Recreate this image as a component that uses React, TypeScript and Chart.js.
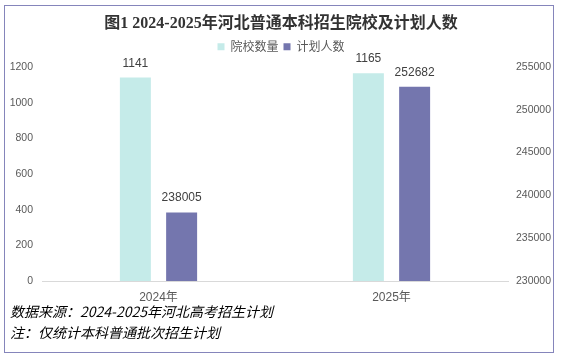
import React, { useEffect, useRef } from "react";
import { Chart, registerables } from "chart.js";

Chart.register(...registerables);

const categories = ["2024年", "2025年"];
const seriesNames = ["院校数量", "计划人数"];
const schoolCounts = [1141, 1165];
const planCounts = [238005, 252682];
const leftAxis = { min: 0, max: 1200, step: 200 };
const rightAxis = { min: 230000, max: 255000, step: 5000 };
const titleText = "图1 2024-2025年河北普通本科招生院校及计划人数";
const footnotes = ["数据来源：2024-2025年河北高考招生计划", "注：仅统计本科普通批次招生计划"];

const CYAN = "#c5ebe9";
const PURPLE = "#7476ae";
const TICK_COLOR = "#595959";
const SANS = '"Liberation Sans", Arial, "Noto Sans CJK SC", sans-serif';
const CJK = '"Noto Sans CJK SC", "Liberation Sans", sans-serif';

const legendSpacer = {
  id: "legendSpacer",
  beforeLayout(chart: any) {
    const lg = chart.legend;
    if (lg && !lg.__spaced) {
      const orig = lg.fit.bind(lg);
      lg.fit = function () {
        orig();
        this.height += 4.3;
      };
      lg.__spaced = true;
    }
  },
};

const valueLabels = {
  id: "valueLabels",
  afterDatasetsDraw(chart: any) {
    const ctx = chart.ctx;
    ctx.save();
    ctx.font = `12px ${SANS}`;
    ctx.fillStyle = "#404040";
    ctx.textAlign = "center";
    ctx.textBaseline = "alphabetic";
    chart.data.datasets.forEach((ds: any, i: number) => {
      const meta = chart.getDatasetMeta(i);
      meta.data.forEach((el: any, j: number) => {
        ctx.fillText(String(ds.data[j]), el.x, el.y - 11);
      });
    });
    ctx.restore();
  },
};

const frameAndNotes = {
  id: "frameAndNotes",
  beforeDraw(chart: any) {
    const ctx = chart.ctx;
    ctx.save();
    ctx.fillStyle = "#ffffff";
    ctx.fillRect(0, 0, chart.width, chart.height);
    ctx.restore();
  },
  afterDraw(chart: any) {
    const ctx = chart.ctx;
    ctx.save();
    ctx.strokeStyle = "#8585bb";
    ctx.lineWidth = 1;
    ctx.strokeRect(4.5, 5.5, 549, 347);
    ctx.font = `italic 14px ${CJK}`;
    ctx.fillStyle = "#000000";
    ctx.textAlign = "left";
    ctx.textBaseline = "middle";
    ctx.fillText(footnotes[0], 10, 312);
    ctx.fillText(footnotes[1], 10, 333);
    ctx.restore();
  },
};

const plainNumber = (v: any) => String(v);

export default function App() {
  const canvasRef = useRef<HTMLCanvasElement | null>(null);

  useEffect(() => {
    if (!canvasRef.current) return;
    const chart = new Chart(canvasRef.current, {
      type: "bar",
      data: {
        labels: categories,
        datasets: [
          {
            label: seriesNames[0],
            data: schoolCounts,
            backgroundColor: CYAN,
            borderWidth: 0,
            yAxisID: "y",
            categoryPercentage: 0.397,
            barPercentage: 0.67,
          },
          {
            label: seriesNames[1],
            data: planCounts,
            backgroundColor: PURPLE,
            borderWidth: 0,
            yAxisID: "y1",
            categoryPercentage: 0.397,
            barPercentage: 0.67,
          },
        ],
      },
      options: {
        responsive: false,
        animation: false,
        layout: { padding: { left: 0, right: 0, top: 0, bottom: 0 } },
        plugins: {
          title: {
            display: true,
            text: titleText,
            color: "#333333",
            font: { size: 16, weight: "bold", family: '"Liberation Serif", "Noto Sans CJK SC", serif' },
            padding: { top: 14.4, bottom: 2.1 },
          },
          legend: {
            display: true,
            position: "top",
            labels: {
              boxWidth: 7,
              boxHeight: 7,
              padding: 5,
              color: TICK_COLOR,
              font: { size: 12, family: CJK },
            },
          },
          tooltip: { enabled: false },
        },
        scales: {
          x: {
            type: "category",
            position: "bottom",
            grid: { display: false, drawTicks: false },
            border: { display: true, color: "#d9d9d9", width: 1 },
            ticks: { color: TICK_COLOR, font: { size: 12, family: SANS }, padding: 9 },
            afterFit: (s: any) => {
              s.height = 76;
            },
          },
          y: {
            type: "linear",
            position: "left",
            min: leftAxis.min,
            max: leftAxis.max,
            grid: { display: false, drawTicks: false },
            border: { display: false },
            ticks: {
              stepSize: leftAxis.step,
              color: TICK_COLOR,
              font: { size: 10.5, family: SANS },
              padding: 9,
              callback: plainNumber,
            },
            afterFit: (s: any) => {
              s.width = 42;
            },
          },
          y1: {
            type: "linear",
            position: "right",
            min: rightAxis.min,
            max: rightAxis.max,
            grid: { display: false, drawTicks: false },
            border: { display: false },
            ticks: {
              stepSize: rightAxis.step,
              color: TICK_COLOR,
              font: { size: 10.5, family: SANS },
              padding: 8,
              callback: plainNumber,
            },
            afterFit: (s: any) => {
              s.width = 54;
            },
          },
        },
      } as any,
      plugins: [legendSpacer, valueLabels, frameAndNotes],
    });
    return () => chart.destroy();
  }, []);

  return (
    <div style={{ position: "fixed", left: 0, top: 0, width: 562, height: 357, background: "#fff" }}>
      <canvas ref={canvasRef} width={562} height={357} style={{ display: "block" }} />
    </div>
  );
}
